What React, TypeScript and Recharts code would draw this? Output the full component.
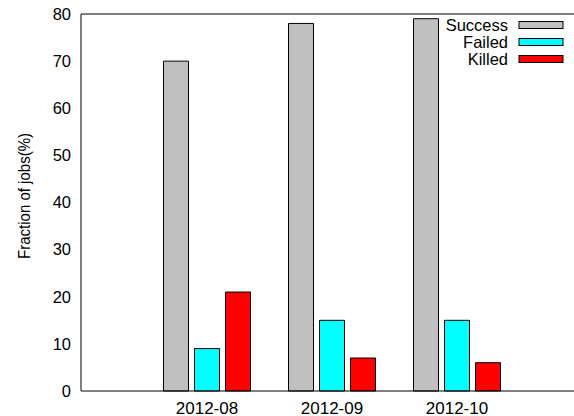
import React from 'react';
import { BarChart, Bar, XAxis, YAxis, Legend } from 'recharts';

const months = ['2012-08', '2012-09', '2012-10'];
const success = [70, 78, 79];
const failed = [9, 15, 15];
const killed = [21, 7, 6];
const yTicks = [0, 10, 20, 30, 40, 50, 60, 70, 80];
const seriesNames = ['Success', 'Failed', 'Killed'];
const seriesColors = ['#c0c0c0', '#00ffff', '#ff0000'];
const yLabel = 'Fraction of jobs(%)';

const data = months.map((m, i) => ({
  month: m,
  [seriesNames[0]]: success[i],
  [seriesNames[1]]: failed[i],
  [seriesNames[2]]: killed[i],
}));

const FONT = '"Liberation Sans", Arial, Helvetica, sans-serif';

const renderLegend = (props: any) => {
  const payload = (props.payload || []) as any[];
  const order = seriesNames.map((n) => payload.find((p) => p.value === n)).filter(Boolean);
  return (
    <svg width={140} height={60} style={{ display: 'block' }}>
      {order.map((p: any, i: number) => (
        <g key={p.value}>
          <text
            x={74}
            y={17 + i * 17}
            textAnchor="end"
            fontSize={16.5}
            fontFamily={FONT}
            fill="#000"
          >
            {p.value}
          </text>
          <rect
            x={85}
            y={7.5 + i * 17}
            width={44}
            height={7}
            fill={p.color}
            stroke="#000"
            strokeWidth={1}
          />
        </g>
      ))}
    </svg>
  );
};

const renderYLabel = (props: any) => {
  const vb = props.viewBox || { x: 0, y: 14, width: 81, height: 377 };
  const cx = vb.x + 29.5;
  const cy = vb.y + vb.height / 2 - 6.5;
  return (
    <text
      x={cx}
      y={cy}
      transform={`rotate(-90, ${cx}, ${cy})`}
      textAnchor="middle"
      fontSize={17}
      textLength={126}
      lengthAdjust="spacingAndGlyphs"
      fontFamily={FONT}
      fill="#000"
    >
      {yLabel}
    </text>
  );
};

export default function App() {
  return (
    <div style={{ position: 'absolute', left: 0, top: 0, width: 574, height: 416, background: '#fff' }}>
      <BarChart
        width={574}
        height={416}
        data={data}
        margin={{ top: 14, right: 0, bottom: 0, left: 0 }}
        barSize={25}
        barGap={6}
        style={{ fontFamily: FONT }}
      >
        <XAxis
          dataKey="month"
          height={25}
          padding={{ left: 63.5, right: 54.5 }}
          tickLine={false}
          tickSize={0}
          tickMargin={10.5}
          axisLine={{ stroke: '#000', strokeWidth: 1 }}
          tick={{ fill: '#000', fontSize: 17, fontFamily: FONT }}
          interval={0}
        />
        <XAxis
          xAxisId="top"
          dataKey="month"
          orientation="top"
          mirror
          padding={{ left: 63.5, right: 54.5 }}
          tick={false}
          tickLine={{ stroke: '#000', strokeWidth: 1 }}
          tickSize={4}
          axisLine={{ stroke: '#000', strokeWidth: 1 }}
          interval={0}
        />
        <YAxis
          width={81}
          domain={[0, 80]}
          ticks={yTicks}
          interval={0}
          tickLine={false}
          tickSize={0}
          tickMargin={10}
          axisLine={{ stroke: '#000', strokeWidth: 1 }}
          tick={{ fill: '#000', fontSize: 16.5, fontFamily: FONT }}
          label={{ content: renderYLabel }}
        />
        <Legend
          layout="vertical"
          verticalAlign="middle"
          align="center"
          content={renderLegend}
          wrapperStyle={{ position: 'absolute', left: 434, top: 14, width: 140, height: 60 }}
        />
        {seriesNames.map((name, i) => (
          <Bar
            key={name}
            dataKey={name}
            name={name}
            fill={seriesColors[i]}
            stroke="#000"
            strokeWidth={1}
            isAnimationActive={false}
          />
        ))}
      </BarChart>
    </div>
  );
}
